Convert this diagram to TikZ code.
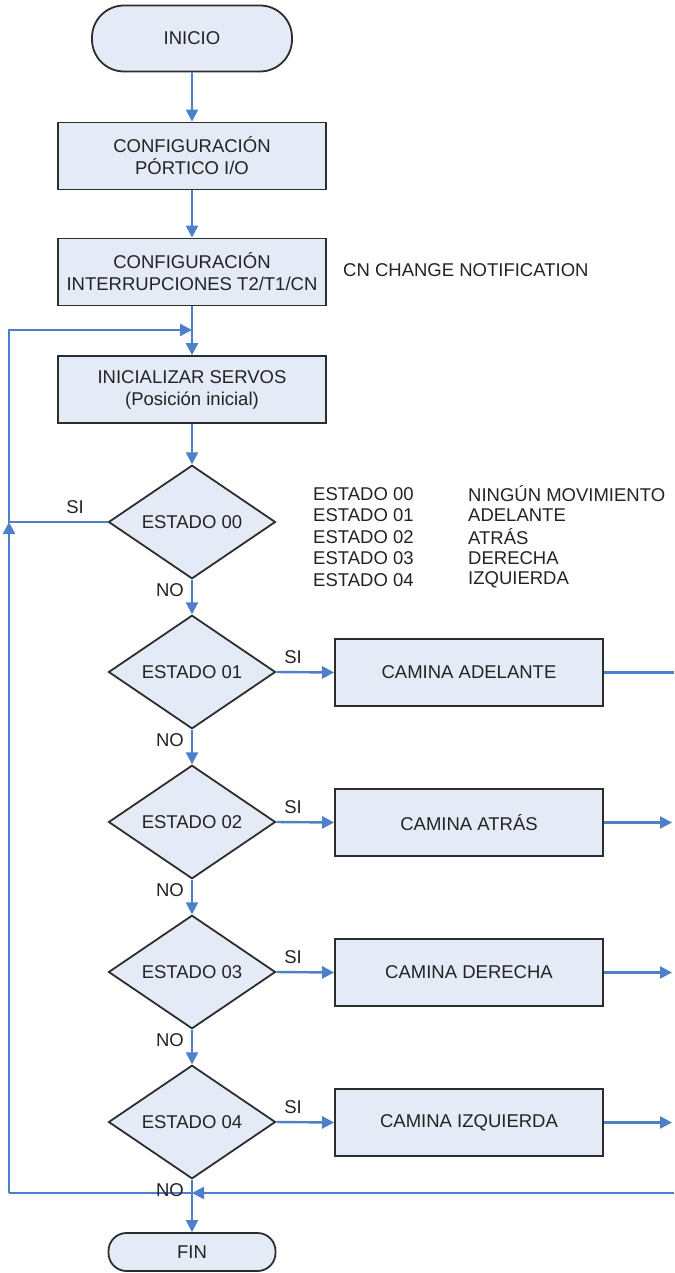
\documentclass[tikz,border=0pt]{standalone}
\usepackage{fontspec}
\setmainfont{Liberation Sans}
\usetikzlibrary{shapes.geometric,arrows.meta}
\definecolor{boxfill}{RGB}{228,234,246}
\definecolor{flowblue}{RGB}{77,128,201}
\definecolor{edgegray}{RGB}{45,45,45}
\definecolor{ink}{RGB}{35,35,35}

\begin{document}
\begin{tikzpicture}[x=1pt,y=-1pt,
  every node/.style={font=\fontsize{18.5}{22}\selectfont, text=ink},
  base/.style={draw=edgegray, line width=1.8pt, fill=boxfill, align=center, inner sep=0pt},
  procbox/.style={base, rectangle, minimum width=268pt, minimum height=67pt},
  startend/.style={base, rectangle, rounded corners=#1},
  decision/.style={base, diamond, minimum width=167pt, minimum height=100pt},
  flow/.style={draw=flowblue, line width=2.4pt, -{Triangle[length=12pt,width=12pt]}},
  plainline/.style={draw=flowblue, line width=2.4pt},
  lbl/.style={inner sep=0pt},
  legend/.style={inner sep=0pt, anchor=west}
]
\useasboundingbox (0,0) rectangle (674,1273);

% main column
\node[startend=32pt, minimum width=200pt, minimum height=66pt] (inicio) at (192,38.5) {INICIO};
\node[procbox] (cfgport) at (192,156) {CONFIGURACIÓN\\PÓRTICO I/O};
\node[procbox] (cfgint) at (192,272) {CONFIGURACIÓN\\INTERRUPCIONES T2/T1/CN};
\node[legend] (cnnote) at (343,270) {CN CHANGE NOTIFICATION};
\coordinate (jtop) at (192,330);
\node[procbox] (servos) at (192,389.5) {INICIALIZAR SERVOS\\(Posición inicial)};

\node[decision] (d0) at (192,522) {ESTADO 00};
\node[decision] (d1) at (192,672) {ESTADO 01};
\node[decision] (d2) at (192,822) {ESTADO 02};
\node[decision] (d3) at (192,972) {ESTADO 03};
\node[decision] (d4) at (192,1122) {ESTADO 04};

\node[procbox] (c1) at (469,672.5) {CAMINA ADELANTE};
\node[procbox] (c2) at (469,822.5) {CAMINA ATRÁS};
\node[procbox] (c3) at (469,972.5) {CAMINA DERECHA};
\node[procbox] (c4) at (469,1122.5) {CAMINA IZQUIERDA};

\node[startend=18pt, minimum width=167pt, minimum height=38pt] (fin) at (192,1252) {FIN};

% state legend
\node[legend] (e0) at (313,494) {ESTADO 00};
\node[legend] (m0) at (468,494) {NINGÚN MOVIMIENTO};
\node[legend] (e1) at (313,515.5) {ESTADO 01};
\node[legend] (m1) at (468,515.5) {ADELANTE};
\node[legend] (e2) at (313,537) {ESTADO 02};
\node[legend] (m2) at (468,537) {ATRÁS};
\node[legend] (e3) at (313,558.5) {ESTADO 03};
\node[legend] (m3) at (468,558.5) {DERECHA};
\node[legend] (e4) at (313,580) {ESTADO 04};
\node[legend] (m4) at (468,580) {IZQUIERDA};

% loop coordinates
\coordinate (lmid) at (9,522);
\coordinate (lbot) at (9,1193);
\coordinate (jbot) at (192,1193);
\coordinate (rbot) at (674,1193);
\coordinate (r1) at (674,672.5);
\coordinate (r2) at (672,822.5);
\coordinate (r3) at (672,972.5);
\coordinate (r4) at (672,1122.5);

% main flow
\draw[flow] (inicio) -- (cfgport);
\draw[flow] (cfgport) -- (cfgint);
\draw[flow] (cfgint) -- (servos);
\draw[flow] (servos) -- (d0);
\draw[flow] (d0) -- (d1);
\draw[flow] (d1) -- (d2);
\draw[flow] (d2) -- (d3);
\draw[flow] (d3) -- (d4);
\draw[flow] (d4) -- (fin);

% SI branches
\draw[flow] (d0.west) -- (lmid) |- (jtop);
\draw[flow] (d1.east) -- (c1.west);
\draw[flow] (d2.east) -- (c2.west);
\draw[flow] (d3.east) -- (c3.west);
\draw[flow] (d4.east) -- (c4.west);
\draw[plainline] (c1.east) -- (r1);
\draw[flow] (c2.east) -- (r2);
\draw[flow] (c3.east) -- (r3);
\draw[flow] (c4.east) -- (r4);

% return loop
\draw[flow] (rbot) -- (jbot);
\draw[plainline] (jbot) -- (lbot);
\draw[flow] (lbot) -- (lmid);

% branch labels
\node[lbl] (si0) at (75,507) {SI};
\node[lbl] (no0) at (170,590) {NO};
\node[lbl] (si1) at (293,657) {SI};
\node[lbl] (no1) at (170,740) {NO};
\node[lbl] (si2) at (293,807) {SI};
\node[lbl] (no2) at (170,890) {NO};
\node[lbl] (si3) at (293,957) {SI};
\node[lbl] (no3) at (170,1040) {NO};
\node[lbl] (si4) at (293,1107) {SI};
\node[lbl] (no4) at (170,1190) {NO};
\end{tikzpicture}
\end{document}
